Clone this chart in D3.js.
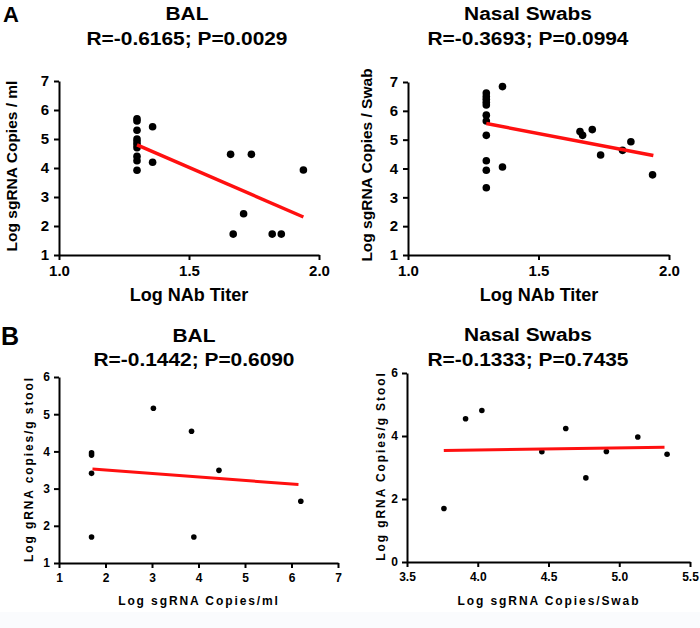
<!DOCTYPE html>
<html>
<head>
<meta charset="utf-8">
<script src="https://cdn.jsdelivr.net/npm/d3@7"></script>
<style>
  html, body { margin: 0; padding: 0; background: #ffffff; }
  svg { display: block; font-family: "Liberation Sans", Arial, Helvetica, sans-serif; font-weight: bold; }
</style>
</head>
<body>
<svg id="chart" width="700" height="628"></svg>
<script>
// ---------- DATA ----------
// Panel A (left): BAL, Log NAb Titer vs Log sgRNA Copies / ml
const balNabX = [1.30, 1.30, 1.30, 1.30, 1.30, 1.30, 1.30, 1.30, 1.30, 1.30, 1.36, 1.36, 1.66, 1.74, 1.94, 1.71, 1.67, 1.82, 1.855];
const balNabY = [5.70, 5.62, 5.30, 5.00, 4.90, 4.80, 4.70, 4.40, 4.25, 3.92, 5.42, 4.20, 4.47, 4.47, 3.93, 2.42, 1.72, 1.72, 1.72];
const balNabFitX = [1.30, 1.94];
const balNabFitY = [4.80, 2.31];

// Panel A (right): Nasal Swabs, Log NAb Titer vs Log sgRNA Copies / Swab
const nasalNabX = [1.30, 1.30, 1.30, 1.30, 1.30, 1.30, 1.30, 1.30, 1.30, 1.30, 1.30, 1.362, 1.362, 1.659, 1.669, 1.706, 1.738, 1.822, 1.854, 1.937];
const nasalNabY = [6.62, 6.50, 6.40, 6.30, 6.20, 5.85, 5.65, 5.15, 4.27, 3.94, 3.33, 6.84, 4.05, 5.28, 5.15, 5.35, 4.47, 4.63, 4.93, 3.78];
const nasalNabFitX = [1.30, 1.94];
const nasalNabFitY = [5.56, 4.45];

// Panel B (left): BAL, Log sgRNA Copies/ml vs Log gRNA copies/g stool
const balStoolX = [1.70, 1.70, 1.70, 1.70, 3.03, 3.85, 3.90, 4.44, 6.20];
const balStoolY = [3.96, 3.90, 3.41, 1.70, 5.16, 4.54, 1.70, 3.49, 2.66];
const balStoolFitX = [1.72, 6.15];
const balStoolFitY = [3.53, 3.11];

// Panel B (right): Nasal Swabs, Log sgRNA Copies/Swab vs Log gRNA Copies/g Stool
const nasalStoolX = [3.761, 3.914, 4.029, 4.453, 4.622, 4.764, 4.909, 5.131, 5.338];
const nasalStoolY = [1.70, 4.55, 4.81, 3.50, 4.24, 2.67, 3.51, 3.97, 3.42];
const nasalStoolFitX = [3.76, 5.32];
const nasalStoolFitY = [3.54, 3.64];

// Tick values
const ticksNabX = [1.0, 1.5, 2.0];
const ticksNabY = [1, 2, 3, 4, 5, 6, 7];
const ticksBalStoolX = [1, 2, 3, 4, 5, 6, 7];
const ticksBalStoolY = [1, 2, 3, 4, 5, 6];
const ticksNasalStoolX = [3.5, 4.0, 4.5, 5.0, 5.5];
const ticksNasalStoolY = [0, 2, 4, 6];

// Titles
const titles = [
  ["BAL", "R=-0.6165; P=0.0029"],
  ["Nasal Swabs", "R=-0.3693; P=0.0994"],
  ["BAL", "R=-0.1442; P=0.6090"],
  ["Nasal Swabs", "R=-0.1333; P=0.7435"]
];
const xLabels = ["Log NAb Titer", "Log NAb Titer", "Log sgRNA Copies/ml", "Log sgRNA Copies/Swab"];
const yLabels = ["Log sgRNA Copies / ml", "Log sgRNA Copies / Swab", "Log gRNA copies/g stool", "Log gRNA Copies/g Stool"];
const panelLetters = ["A", "B"];

// ---------- DRAW ----------
const svg = d3.select("#chart");
svg.append("rect").attr("x", 0).attr("y", 612).attr("width", 700).attr("height", 16).attr("fill", "#fafbfd");

const panels = [
  { xs: balNabX, ys: balNabY, fx: balNabFitX, fy: balNabFitY, xd: [1, 2], yd: [1, 7], xr: [59, 319], yr: [255, 81],
    xt: ticksNabX, yt: ticksNabY, xf: d3.format(".1f"), yf: d3.format("d"), big: true,
    title: titles[0], tcx: 187, tb: [20, 45], xl: xLabels[0], xlx: 189, xly: 301, yl: yLabels[0], ylx: 17, yly: 166 },
  { xs: nasalNabX, ys: nasalNabY, fx: nasalNabFitX, fy: nasalNabFitY, xd: [1, 2], yd: [1, 7], xr: [408, 669], yr: [255, 82],
    xt: ticksNabX, yt: ticksNabY, xf: d3.format(".1f"), yf: d3.format("d"), big: true,
    title: titles[1], tcx: 528, tb: [20, 45], xl: xLabels[1], xlx: 539, xly: 301, yl: yLabels[1], ylx: 372, yly: 165 },
  { xs: balStoolX, ys: balStoolY, fx: balStoolFitX, fy: balStoolFitY, xd: [1, 7], yd: [1, 6], xr: [59, 338], yr: [563, 377],
    xt: ticksBalStoolX, yt: ticksBalStoolY, xf: d3.format("d"), yf: d3.format("d"), big: false,
    title: titles[2], tcx: 194, tb: [342, 366], xl: xLabels[2], xlx: 199, xly: 605, yl: yLabels[2], ylx: 33, yly: 469 },
  { xs: nasalStoolX, ys: nasalStoolY, fx: nasalStoolFitX, fy: nasalStoolFitY, xd: [3.5, 5.5], yd: [0, 6], xr: [407, 690], yr: [562, 373],
    xt: ticksNasalStoolX, yt: ticksNasalStoolY, xf: d3.format(".1f"), yf: d3.format("d"), big: false,
    title: titles[3], tcx: 528, tb: [341, 366], xl: xLabels[3], xlx: 549, xly: 605, yl: yLabels[3], ylx: 385, yly: 466 }
];

panels.forEach(p => {
  const g = svg.append("g");
  const x = d3.scaleLinear().domain(p.xd).range(p.xr);
  const y = d3.scaleLinear().domain(p.yd).range(p.yr);
  const tickFont = p.big ? 15 : 12;

  // Titles (slightly wide lettering as in the reference)
  p.title.forEach((t, i) => {
    g.append("text").attr("transform", `translate(${p.tcx},${p.tb[i]}) scale(1.1,1)`)
      .attr("text-anchor", "middle").attr("font-size", 19).text(t);
  });

  // Axes
  const xAxis = d3.axisBottom(x).tickValues(p.xt).tickFormat(p.xf).tickSize(5).tickSizeOuter(0).tickPadding(5);
  const yAxis = d3.axisLeft(y).tickValues(p.yt).tickFormat(p.yf).tickSize(5).tickSizeOuter(0).tickPadding(p.big ? 5 : 4);
  const gx = g.append("g").attr("transform", `translate(0,${p.yr[0]})`).call(xAxis);
  const gy = g.append("g").attr("transform", `translate(${p.xr[0]},0)`).call(yAxis);
  [gx, gy].forEach(ax => {
    ax.select(".domain").attr("stroke", "#000").attr("stroke-width", 2);
    ax.selectAll(".tick line").attr("stroke", "#000").attr("stroke-width", 2);
    ax.selectAll(".tick text").attr("fill", "#000").attr("font-size", tickFont)
      .attr("font-family", "'Liberation Sans', Arial, sans-serif").attr("font-weight", "bold");
  });

  // Axis labels
  g.append("text").attr("x", p.xlx).attr("y", p.xly).attr("text-anchor", "middle")
    .attr("font-size", p.big ? 18 : 12).attr("letter-spacing", p.big ? 0 : 1.9).text(p.xl);
  g.append("text").attr("transform", `translate(${p.ylx},${p.yly}) rotate(-90)`).attr("text-anchor", "middle")
    .attr("font-size", p.big ? 15.5 : 12).attr("letter-spacing", p.big ? 0 : 1.9).text(p.yl);

  // Points
  g.append("g").selectAll("circle").data(p.xs.map((v, i) => [v, p.ys[i]])).join("circle")
    .attr("cx", d => x(d[0])).attr("cy", d => y(d[1])).attr("r", p.big ? 3.8 : 2.8).attr("fill", "#000");

  // Regression line
  g.append("line")
    .attr("x1", x(p.fx[0])).attr("y1", y(p.fy[0]))
    .attr("x2", x(p.fx[1])).attr("y2", y(p.fy[1]))
    .attr("stroke", "#ff1010").attr("stroke-width", p.big ? 3.5 : 3);
});

// Panel letters
svg.append("text").attr("x", 3).attr("y", 22).attr("font-size", 22).text(panelLetters[0]);
svg.append("text").attr("x", 1).attr("y", 345).attr("font-size", 25).text(panelLetters[1]);
</script>
</body>
</html>
